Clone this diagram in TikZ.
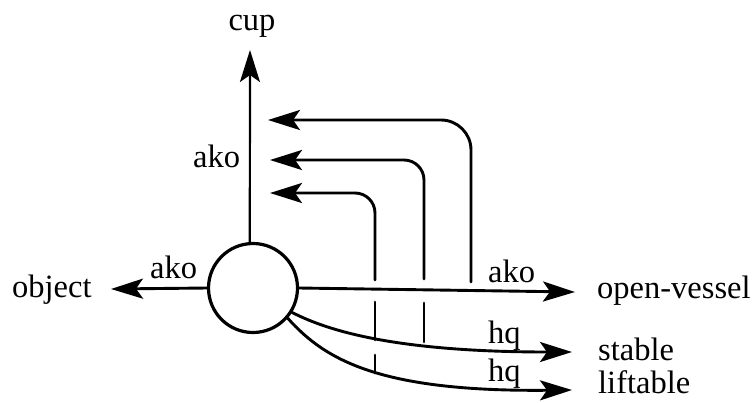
\documentclass[tikz,border=0pt]{standalone}
\usepackage{fontspec}
\setmainfont{Liberation Serif}
\usetikzlibrary{arrows.meta}
\begin{document}
\begin{tikzpicture}[x=1pt,y=-1pt,
  lbl/.style={inner sep=0pt,anchor=base west,font=\fontsize{32.5}{36}\selectfont},
  ln/.style={line width=2.9pt,line cap=round},
  arr/.style={ln,-{Stealth[length=32pt,width=20pt,inset=7pt]}},
  ring/.style={circle,draw,line width=3.2pt,minimum size=89pt,inner sep=0pt}]
\useasboundingbox (0,0) rectangle (754,402);
% central node
\node[ring] (c) at (253,288) {};
% labels
\node[lbl,anchor=base] (cup) at (252,30) {cup};
\node[lbl] (object) at (12,297) {object};
\node[lbl] (ov) at (597,298) {open-vessel};
\node[lbl] (stable) at (598,360) {stable};
\node[lbl] (liftable) at (598,393) {liftable};
\node[lbl] (akoL) at (150,278) {ako};
\node[lbl] (akoV) at (193,167) {ako};
\node[lbl] (akoR) at (488,282) {ako};
\node[lbl] (hqA) at (488,343) {hq};
\node[lbl] (hqB) at (488,381) {hq};
% tips
\coordinate (cupTip) at (250,50);
\coordinate (objTip) at (111,289);
\coordinate (ovTip) at (575,292);
\coordinate (stTip) at (572,352);
\coordinate (lfTip) at (572,390);
% main connectors
\draw[arr,line width=2.2pt] (c.94) -- (cupTip);
\draw[arr] (c.west) -- (objTip);
\draw[arr] (c.east) -- (ovTip);
\draw[arr] (c.-32) .. controls (330,332) and (400,352) .. (stTip);
\draw[arr] (c.-41) .. controls (325,360) and (380,392) .. (lfTip);
% return arrows
\coordinate (r1a) at (471,282);
\coordinate (r1b) at (471,120);
\coordinate (r1t) at (268,120);
\draw[arr,rounded corners=30pt] (r1a) -- (r1b) -- (r1t);
\coordinate (r2a) at (424,279);
\coordinate (r2b) at (424,160);
\coordinate (r2t) at (270,160);
\draw[arr,rounded corners=20pt] (r2a) -- (r2b) -- (r2t);
\coordinate (r2s) at (424,342);
\coordinate (r2u) at (424,303);
\draw[ln] (r2s) -- (r2u);
\coordinate (r3a) at (375,280);
\coordinate (r3b) at (375,193);
\coordinate (r3t) at (270,193);
\draw[arr,rounded corners=20pt] (r3a) -- (r3b) -- (r3t);
\coordinate (r3s) at (375,340);
\coordinate (r3u) at (375,302);
\draw[ln] (r3s) -- (r3u);
\coordinate (r3v) at (375,373);
\coordinate (r3w) at (375,355);
\draw[ln] (r3v) -- (r3w);
\end{tikzpicture}
\end{document}
